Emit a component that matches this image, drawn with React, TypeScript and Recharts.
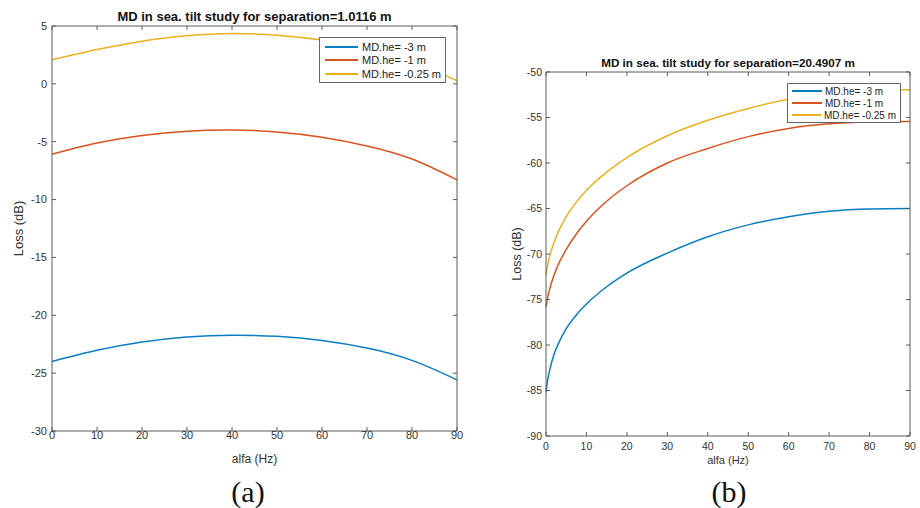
import React from 'react';
import { LineChart, Line, XAxis, YAxis, Legend } from 'recharts';

// panel (a): separation = 1.0116 m
const ALFA_A = [0, 10, 20, 30, 40, 50, 60, 70, 80, 90];
const LOSS_A_HE3 = [-23.99, -23.03, -22.31, -21.87, -21.72, -21.82, -22.17, -22.83, -23.9, -25.58];
const LOSS_A_HE1 = [-6.08, -5.12, -4.47, -4.09, -3.98, -4.16, -4.62, -5.37, -6.5, -8.3];
const LOSS_A_HE025 = [2.08, 2.96, 3.69, 4.15, 4.35, 4.2, 3.78, 3.05, 1.9, 0.28];

// panel (b): separation = 20.4907 m
const ALFA_B = [0, 0.5, 1, 2, 3, 5, 7.5, 10, 15, 20, 30, 40, 50, 60, 70, 80, 90];
const LOSS_B_HE3 = [-85.2, -83.6, -82.6, -81.0, -79.9, -78.2, -76.7, -75.5, -73.6, -72.1, -69.9, -68.1, -66.8, -65.9, -65.3, -65.05, -65.0];
const LOSS_B_HE1 = [-75.8, -74.6, -73.7, -72.3, -71.2, -69.5, -67.8, -66.4, -64.2, -62.5, -60.0, -58.4, -57.1, -56.2, -55.7, -55.5, -55.45];
const LOSS_B_HE025 = [-72.3, -71.0, -70.1, -68.7, -67.6, -65.9, -64.3, -63.0, -61.0, -59.4, -57.0, -55.3, -54.0, -53.0, -52.4, -52.1, -51.95];

const X_TICKS = [0, 10, 20, 30, 40, 50, 60, 70, 80, 90];
const Y_TICKS_A = [5, 0, -5, -10, -15, -20, -25, -30];
const Y_TICKS_B = [-50, -55, -60, -65, -70, -75, -80, -85, -90];

const SERIES_NAMES = ['MD.he= -3 m', 'MD.he= -1 m', 'MD.he= -0.25 m'];
const COLORS = ['#0a7ec2', '#d9531e', '#ecb01f'];

const FONT = '"Liberation Sans", Arial, Helvetica, sans-serif';
const AXIS = '#5a5a5a';
const TEXT = '#333';

const rowsA = ALFA_A.map((alfa, i) => ({ alfa, s0: LOSS_A_HE3[i], s1: LOSS_A_HE1[i], s2: LOSS_A_HE025[i] }));
const rowsB = ALFA_B.map((alfa, i) => ({ alfa, s0: LOSS_B_HE3[i], s1: LOSS_B_HE1[i], s2: LOSS_B_HE025[i] }));

function BoxLegend({ fontSize, rowH, lineLen, padTop, padLeft, gap }) {
  return (
    <div
      style={{
        background: '#fff',
        border: '1px solid #666',
        boxSizing: 'border-box',
        padding: `${padTop}px 4px 2px ${padLeft}px`,
        fontFamily: FONT,
        fontSize,
        color: '#222',
        width: '100%',
        height: '100%',
      }}
    >
      {SERIES_NAMES.map((name, i) => (
        <div key={name} style={{ display: 'flex', alignItems: 'center', height: rowH, whiteSpace: 'nowrap' }}>
          <span style={{ display: 'inline-block', width: lineLen, height: 2, background: COLORS[i], marginRight: gap }} />
          <span>{name}</span>
        </div>
      ))}
    </div>
  );
}

function Panel({ rows, title, yDomain, yTicks, width, height, margin, yWidth, xHeight, yLabelOffset, xLabelOffset, xTickMargin, yTickMargin, legendPos, legendProps, fonts, curve }) {
  const tickStyle = { fontSize: fonts.tick, fill: TEXT, fontFamily: FONT };
  const blank = () => '';
  return (
    <LineChart width={width} height={height} data={rows} margin={margin}>
      <XAxis
        dataKey="alfa"
        type="number"
        domain={[0, 90]}
        ticks={X_TICKS}
        interval={0}
        height={xHeight}
        tickSize={-4}
        tickMargin={xTickMargin}
        stroke={AXIS}
        tick={tickStyle}
        label={{ value: 'alfa (Hz)', position: 'insideBottom', offset: xLabelOffset, style: { fontSize: fonts.xLabel, fill: TEXT, fontFamily: FONT } }}
      />
      <XAxis
        xAxisId="top"
        orientation="top"
        dataKey="alfa"
        type="number"
        domain={[0, 90]}
        ticks={X_TICKS}
        interval={0}
        height={1}
        tickSize={-4}
        tickFormatter={blank}
        stroke={AXIS}
        label={{ value: title, position: 'top', offset: 4, style: { fontSize: fonts.title, fontWeight: 'bold', fill: '#111', fontFamily: FONT } }}
      />
      <YAxis
        type="number"
        domain={yDomain}
        ticks={yTicks}
        interval={0}
        width={yWidth}
        tickSize={-4}
        tickMargin={yTickMargin}
        stroke={AXIS}
        tick={tickStyle}
        label={{ value: 'Loss (dB)', angle: -90, position: 'insideLeft', offset: yLabelOffset, style: { textAnchor: 'middle', fontSize: fonts.yLabel, fill: TEXT, fontFamily: FONT } }}
      />
      <YAxis
        yAxisId="right"
        orientation="right"
        type="number"
        domain={yDomain}
        ticks={yTicks}
        interval={0}
        width={1}
        tickSize={-4}
        tickFormatter={blank}
        stroke={AXIS}
      />
      <Legend
        layout="horizontal"
        verticalAlign="middle"
        align="center"
        wrapperStyle={{ position: 'absolute', ...legendPos }}
        content={() => <BoxLegend {...legendProps} />}
      />
      {/* first series is bound to the top/right axes so the box frame gets its ticks */}
      <Line
        dataKey="s0"
        name={SERIES_NAMES[0]}
        xAxisId="top"
        yAxisId="right"
        type={curve}
        stroke={COLORS[0]}
        strokeWidth={1.5}
        dot={false}
        isAnimationActive={false}
      />
      <Line
        dataKey="s1"
        name={SERIES_NAMES[1]}
        type={curve}
        stroke={COLORS[1]}
        strokeWidth={1.5}
        dot={false}
        isAnimationActive={false}
      />
      <Line
        dataKey="s2"
        name={SERIES_NAMES[2]}
        type={curve}
        stroke={COLORS[2]}
        strokeWidth={1.5}
        dot={false}
        isAnimationActive={false}
      />
    </LineChart>
  );
}

export default function App() {
  return (
    <div style={{ position: 'absolute', left: 0, top: 0, width: 920, height: 508, background: '#fff', overflow: 'hidden' }}>
      <div style={{ position: 'absolute', left: 0, top: 0 }}>
        <Panel
          rows={rowsA}
          title="MD in sea. tilt study for separation=1.0116 m"
          yDomain={[-30, 5]}
          yTicks={Y_TICKS_A}
          width={467}
          height={480}
          margin={{ top: 25, right: 9, bottom: 0, left: 0 }}
          yWidth={52}
          xHeight={49}
          yLabelOffset={18}
          xLabelOffset={17}
          xTickMargin={4}
          yTickMargin={9}
          curve="natural"
          fonts={{ tick: 11, xLabel: 12, yLabel: 13, title: 13 }}
          legendPos={{ left: 319, top: 37, width: 127, height: 46 }}
          legendProps={{ fontSize: 11, rowH: 13.5, lineLen: 33, padTop: 2, padLeft: 5, gap: 4 }}
        />
      </div>
      <div style={{ position: 'absolute', left: 470, top: 0 }}>
        <Panel
          rows={rowsB}
          title="MD in sea. tilt study for separation=20.4907 m"
          yDomain={[-90, -50]}
          yTicks={Y_TICKS_B}
          width={450}
          height={480}
          margin={{ top: 71, right: 9, bottom: 0, left: 0 }}
          yWidth={76}
          xHeight={44}
          yLabelOffset={47}
          xLabelOffset={16}
          xTickMargin={11}
          yTickMargin={8}
          curve="monotone"
          fonts={{ tick: 10.5, xLabel: 11, yLabel: 12.5, title: 11.7 }}
          legendPos={{ left: 317, top: 83, width: 114, height: 40 }}
          legendProps={{ fontSize: 10, rowH: 12.2, lineLen: 30, padTop: 1, padLeft: 4, gap: 3 }}
        />
      </div>
      <div style={{ position: 'absolute', left: 198, top: 477, width: 100, textAlign: 'center', fontFamily: '"Liberation Serif", "Times New Roman", serif', fontSize: 30, lineHeight: '30px', color: '#111' }}>
        (a)
      </div>
      <div style={{ position: 'absolute', left: 679, top: 477, width: 100, textAlign: 'center', fontFamily: '"Liberation Serif", "Times New Roman", serif', fontSize: 30, lineHeight: '30px', color: '#111' }}>
        (b)
      </div>
    </div>
  );
}
